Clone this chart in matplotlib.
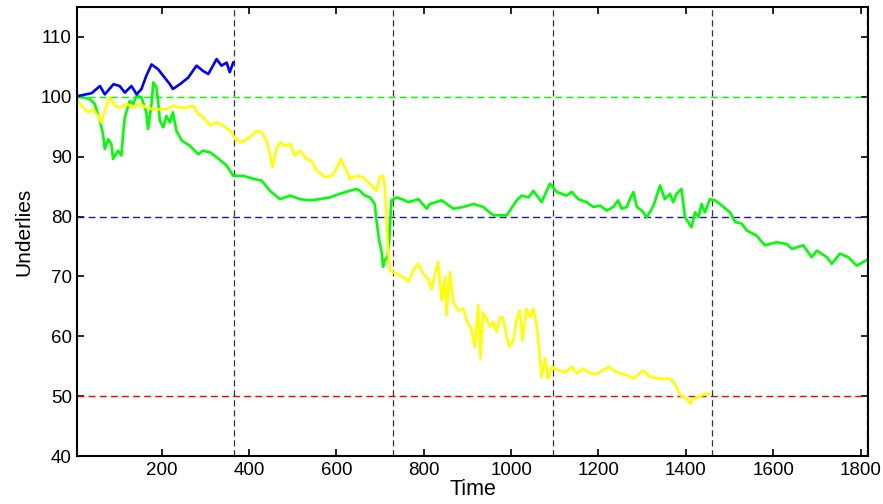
import matplotlib
matplotlib.use("Agg")
import matplotlib.pyplot as plt

plt.rcParams['font.family'] = ['Liberation Sans', 'DejaVu Sans']

# blue underlying (first year only)
blue_t = [1, 20, 40, 59, 70, 90, 104, 116, 131, 143, 154, 165, 177, 192, 207,
          219, 226, 242, 261, 280, 295, 307, 326, 337, 349, 356, 364]
blue_v = [100, 100.3, 100.6, 101.8, 100.4, 102.1, 101.8, 100.7, 101.8, 100.4,
          101.3, 103.5, 105.4, 104.6, 103.2, 102.1, 101.3, 102.1, 103.2, 105.2,
          104.3, 103.8, 106.3, 105.2, 105.7, 104.1, 105.7]

# green underlying
green_t = [1, 20, 36, 47, 59, 66, 70, 78, 85, 89, 100, 108, 112, 116, 127, 135,
           143, 154, 165, 169, 177, 181, 188, 192, 196, 204, 211, 219, 226, 234,
           246, 265, 284, 295, 311, 326, 349, 364, 387, 410, 429, 448, 471, 494,
           517, 540, 562, 585, 608, 631, 646, 654, 665, 677, 688, 692, 698, 704,
           707, 711, 717, 721, 724, 726, 738, 750, 765, 788, 807, 814, 841, 868,
           891, 914, 936, 959, 975, 990, 1013, 1024, 1040, 1051, 1070, 1089, 1105,
           1127, 1139, 1154, 1173, 1188, 1204, 1219, 1234, 1245, 1253, 1265, 1272,
           1280, 1288, 1299, 1311, 1326, 1341, 1352, 1364, 1371, 1379, 1390, 1398,
           1413, 1421, 1429, 1436, 1444, 1455, 1467, 1478, 1501, 1513, 1528, 1539,
           1562, 1581, 1608, 1631, 1643, 1669, 1688, 1700, 1723, 1734, 1753, 1772,
           1791, 1806, 1816]
green_v = [100, 99.9, 99.6, 98.8, 96, 93.8, 91.3, 92.9, 92.1, 89.6, 91, 90.2, 93.8,
           96.6, 99.3, 98.8, 100.2, 99.9, 97.4, 94.6, 98.8, 102.4, 101.6, 99.3, 96,
           94.9, 96.8, 95.7, 97.4, 94.3, 92.7, 91.8, 90.4, 91, 90.7, 89.9, 88.5,
           86.8, 86.8, 86.3, 86, 84.3, 82.9, 83.5, 82.9, 82.7, 82.9, 83.2, 83.8,
           84.3, 84.6, 84.3, 83.5, 83.2, 82.1, 79.3, 76, 74, 71.6, 72.7, 73.2, 76,
           79.9, 82.7, 83.2, 82.9, 82.4, 82.9, 81.3, 82.1, 82.7, 81.3, 81.6, 82.1,
           81.6, 80.2, 80.2, 80.2, 82.7, 83.5, 83.2, 84.3, 82.4, 85.5, 84.1, 83.5,
           84.1, 82.9, 82.4, 81.6, 81.8, 81, 81.6, 82.7, 81.3, 81.6, 82.9, 84.1,
           81.6, 81, 79.9, 81.8, 85.2, 82.9, 83.8, 82.4, 83.8, 84.6, 79.9, 78.2,
           80.7, 79.9, 82.1, 80.7, 82.9, 82.7, 82.1, 80.7, 79.1, 78.8, 77.7, 76.8,
           75.2, 75.7, 75.4, 74.6, 75.2, 73.2, 74.3, 73.2, 72.1, 73.8, 73.2, 71.8,
           72.4, 72.8]

# yellow underlying
yellow_t = [1, 20, 32, 43, 55, 62, 70, 81, 93, 104, 120, 135, 150, 165, 181, 196,
            211, 226, 242, 257, 272, 284, 295, 311, 326, 341, 360, 368, 383, 402,
            417, 429, 440, 448, 454, 463, 471, 482, 494, 505, 517, 532, 543, 555,
            574, 589, 600, 610, 620, 631, 646, 661, 673, 684, 692, 700, 707, 711,
            715, 719, 723, 738, 753, 765, 776, 788, 799, 810, 818, 826, 833, 841,
            849, 852, 860, 868, 879, 891, 898, 910, 917, 925, 930, 936, 944, 951,
            959, 967, 975, 982, 990, 996, 1005, 1013, 1020, 1026, 1035, 1043, 1051,
            1058, 1064, 1070, 1078, 1085, 1093, 1108, 1124, 1139, 1150, 1165, 1181,
            1196, 1223, 1242, 1265, 1280, 1303, 1318, 1341, 1364, 1375, 1387, 1402,
            1410, 1417, 1432, 1444, 1452]
yellow_v = [100, 98.2, 97.4, 97.9, 96.8, 95.7, 97.7, 99.9, 98.5, 98.2, 98.8, 98.2,
            98.8, 98.2, 97.9, 97.9, 97.9, 98.5, 98.2, 98.2, 98.5, 97.1, 96.6, 95.2,
            95.7, 95.2, 94.1, 93, 92.4, 93.2, 94.3, 94.1, 92.7, 90.4, 88.2, 91.3,
            92.4, 91.8, 92.1, 90.2, 91, 89.6, 89.3, 87.7, 86.6, 86.8, 87.9, 89.6,
            88.2, 86.3, 86.8, 86.6, 85.7, 84.9, 84.3, 86.6, 86.8, 84.9, 79.3, 73.8,
            71, 70.4, 69.9, 69.1, 71, 72.1, 70.4, 69.6, 67.9, 70.4, 72.4, 66, 69.9,
            63.5, 70.7, 65.7, 64.3, 64.6, 62.7, 61, 58.2, 65.2, 56.3, 64, 62.9, 61.6,
            62.4, 60.7, 63.2, 63, 59.9, 58.2, 59.3, 63, 64.3, 59.3, 64.6, 63.2, 64.6,
            62.1, 58.2, 53.2, 56.3, 52.9, 54.9, 54.3, 54, 54.9, 53.8, 54.6, 53.8,
            53.7, 54.9, 54, 53.5, 52.9, 54.3, 53.2, 52.9, 52.9, 52.1, 50.2, 49.6,
            48.8, 49.6, 49.9, 50.4, 50.3]

year_ends = [365, 730, 1095, 1460, 1815]
levels = [100, 80, 50]
level_colors = ['#00ff00', '#1a1a9e', '#ff0000']

fig = plt.figure(figsize=(8.83, 5.04), dpi=100)
ax = fig.add_axes([0.0875, 0.0952, 0.8955, 0.891])

for lv, c in zip(levels, level_colors):
    ax.axhline(lv, color=c, linestyle=(0, (5, 3)), linewidth=1.0)
for d in year_ends:
    ax.axvline(d, color='#333333', linestyle=(0, (5, 3)), linewidth=0.9)

ax.plot(green_t, green_v, color='#00ff00', linewidth=1.9)
ax.plot(yellow_t, yellow_v, color='#ffff00', linewidth=1.9)
ax.plot(blue_t, blue_v, color='#0000ff', linewidth=1.9)

ax.set_xlim(7, 1817)
ax.set_ylim(40, 115)
ax.set_xticks(range(200, 1801, 200))
ax.set_yticks(range(40, 111, 10))
ax.tick_params(direction='in', top=True, right=True, length=5, width=1.2,
               labelsize=13.5, pad=4)
for s in ax.spines.values():
    s.set_linewidth(1.5)

ax.set_xlabel('Time', fontsize=15.5, labelpad=0)
ax.set_ylabel('Underlies', fontsize=15, labelpad=5)

fig.savefig('out.png', dpi=100)
